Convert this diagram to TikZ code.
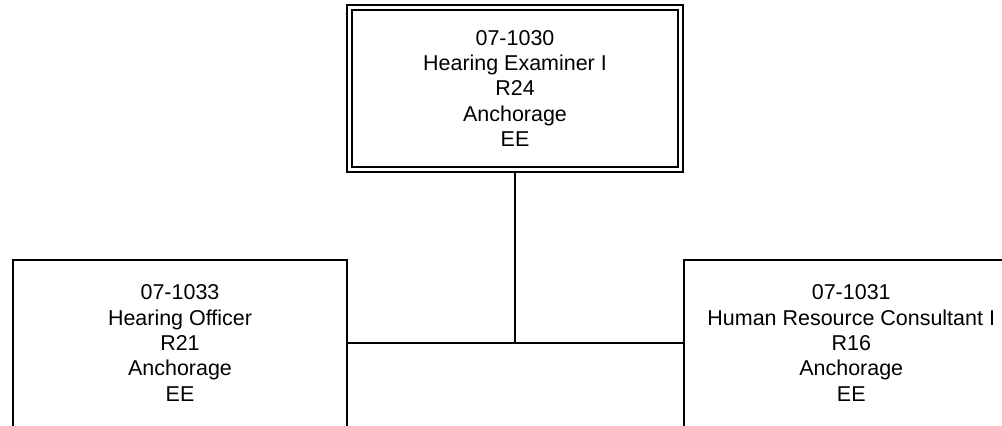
\documentclass[tikz,border=0pt]{standalone}
\usepackage{fontspec}
\setmainfont{Liberation Sans}
\newdimen\px \px=0.75pt
\tikzset{
  posbox/.style={draw=black, line width=2\px, rectangle, inner sep=0pt,
    align=center, font={\fontsize{16.1}{19.1}\selectfont},
    minimum width=334.5\px, minimum height=167\px},
  headbox/.style={posbox, line width=1.5\px, double, double distance=3.5\px,
    minimum width=331\px, minimum height=162\px, outer sep=3.25\px},
  link/.style={draw=black, line width=2\px}
}
\begin{document}
\begin{tikzpicture}[x=0.75pt, y=-0.75pt]
\clip (0,0) rectangle (1002,425);
\node[headbox] (top) at (515,88.5) {07-1030\\Hearing Examiner I\\R24\\Anchorage\\EE};
\node[posbox] (left) at (180,343) {07-1033\\Hearing Officer\\R21\\Anchorage\\EE};
\node[posbox] (right) at (851.25,343) {07-1031\\Human Resource Consultant I\\R16\\Anchorage\\EE};
\coordinate (j) at (top.south |- left.east);
\draw[link] (top.south) -- (j);
\draw[link] (left.east) -- (right.west);
\end{tikzpicture}
\end{document}
